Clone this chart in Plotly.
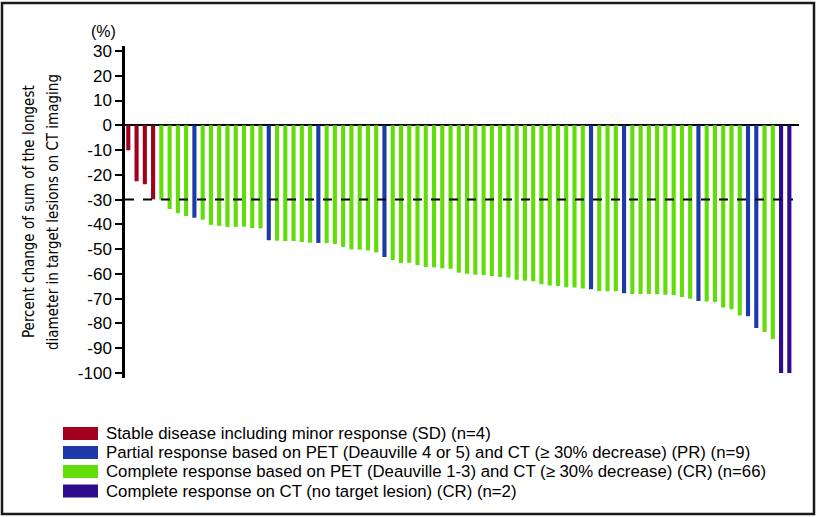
import plotly.graph_objects as go

# ---- data ----
patients = list(range(1, 82))
values = [-10.1, -22.6, -23.8, -29.9, -30.0, -33.8, -35.5, -36.6, -37.3, -38.1,
          -40.2, -40.6, -41.0, -41.0, -40.9, -41.5, -41.6, -46.4, -46.6, -46.7,
          -46.7, -47.1, -47.4, -47.5, -47.5, -47.9, -49.1, -50.1, -50.2, -50.5,
          -51.3, -53.2, -54.4, -55.6, -55.5, -56.4, -57.2, -57.3, -57.7, -57.9,
          -59.5, -59.9, -60.3, -60.4, -60.8, -61.2, -61.4, -62.3, -62.7, -62.9,
          -64.2, -64.7, -64.9, -65.4, -65.5, -65.9, -66.2, -66.9, -67.0, -67.0,
          -67.8, -68.1, -68.1, -68.1, -68.2, -68.4, -68.5, -69.3, -70.0, -70.9,
          -71.1, -71.3, -73.5, -74.3, -76.8, -77.1, -81.8, -83.4, -86.3, -100.0, -100.0]
pr_patients = [9, 18, 24, 32, 57, 61, 70, 76, 77]
sd_patients = [1, 2, 3, 4]
ctcr_patients = [80, 81]
groups = []
for p in patients:
    if p in sd_patients:
        groups.append("SD")
    elif p in pr_patients:
        groups.append("PR")
    elif p in ctcr_patients:
        groups.append("CTCR")
    else:
        groups.append("CR")

group_order = ["SD", "PR", "CR", "CTCR"]
group_labels = [
    "Stable disease including minor response (SD) (n=4)",
    "Partial response based on PET (Deauville 4 or 5) and CT (\u2265 30% decrease) (PR) (n=9)",
    "Complete response based on PET (Deauville 1-3) and CT (\u2265 30% decrease) (CR) (n=66)",
    "Complete response on CT (no target lesion) (CR) (n=2)",
]
group_colors = ["#A2001F", "#1D3BA8", "#62DD0A", "#2E0C8C"]
y_ticks = [30, 20, 10, 0, -10, -20, -30, -40, -50, -60, -70, -80, -90, -100]
threshold = -30

# ---- layout geometry (pixels) ----
W, H = 817, 517
L, R, T, B = 125, 18, 46, 139
pw, ph = W - L - R, H - T - B

def px(x):
    return (x - L) / pw

def py(y):
    return (H - B - y) / ph

fig = go.Figure()
for g, lab, col in zip(group_order, group_labels, group_colors):
    xs = [p for p, gg in zip(patients, groups) if gg == g]
    ys = [v for v, gg in zip(values, groups) if gg == g]
    fig.add_trace(go.Bar(x=xs, y=ys, name=lab, marker_color=col,
                         marker_line_width=0, width=0.5, showlegend=False))

font_main = "Liberation Sans, Arial, Helvetica, sans-serif"
font_narrow = "Liberation Sans Narrow, DejaVu Sans Condensed, Arial Narrow, sans-serif"

fig.update_layout(
    width=W, height=H,
    margin=dict(l=L, r=R, t=T, b=B, pad=0),
    plot_bgcolor="white", paper_bgcolor="white",
    barmode="overlay",
    xaxis=dict(range=[0.6, 82.17], showticklabels=False, showgrid=False,
               zeroline=False, showline=False, ticks=""),
    yaxis=dict(range=[-102, 32], tickvals=y_ticks, ticktext=[str(t) for t in y_ticks],
               showgrid=False, zeroline=True, zerolinecolor="black", zerolinewidth=2,
               showline=True, linecolor="black", linewidth=2.5,
               ticks="outside", ticklen=7, tickwidth=2, tickcolor="black",
               tickfont=dict(family=font_main, size=17, color="black")),
    font=dict(family=font_main, color="black"),
)

# threshold dashed line
fig.add_shape(type="line", xref="paper", yref="y", x0=0, x1=px(793),
              y0=threshold, y1=threshold, line=dict(color="black", width=2, dash="dash"))

# outer frame
fig.add_shape(type="rect", xref="paper", yref="paper",
              x0=px(2), x1=px(814), y0=py(514), y1=py(3),
              line=dict(color="#1a1a1a", width=2.5), fillcolor="rgba(0,0,0,0)")

# (%) label
fig.add_annotation(xref="paper", yref="paper", x=px(103), y=py(31), text="(%)",
                   showarrow=False, xanchor="center", yanchor="middle",
                   font=dict(size=16, family=font_main))

# y-axis title (two lines)
fig.add_annotation(xref="paper", yref="paper", x=px(29), y=py(212),
                   text="Percent change of sum of the longest", textangle=-90,
                   showarrow=False, xanchor="center", yanchor="middle",
                   font=dict(size=15, family=font_narrow))
fig.add_annotation(xref="paper", yref="paper", x=px(53), y=py(212),
                   text="diameter in target lesions on CT imaging", textangle=-90,
                   showarrow=False, xanchor="center", yanchor="middle",
                   font=dict(size=15, family=font_narrow))

# legend
row_y = [433.5, 452.5, 471.5, 491]
for yy, lab, col in zip(row_y, group_labels, group_colors):
    fig.add_shape(type="rect", xref="paper", yref="paper",
                  x0=px(63), x1=px(98), y0=py(yy + 6.5), y1=py(yy - 6.5),
                  line=dict(width=0), fillcolor=col)
    fig.add_annotation(xref="paper", yref="paper", x=px(104), y=py(yy),
                       text=lab, showarrow=False, xanchor="left", yanchor="middle",
                       font=dict(size=16.8, family=font_main))

fig.write_html("out.html", config={"displayModeBar": False},
               post_script="document.body.style.margin='0';document.body.style.overflow='hidden';")
